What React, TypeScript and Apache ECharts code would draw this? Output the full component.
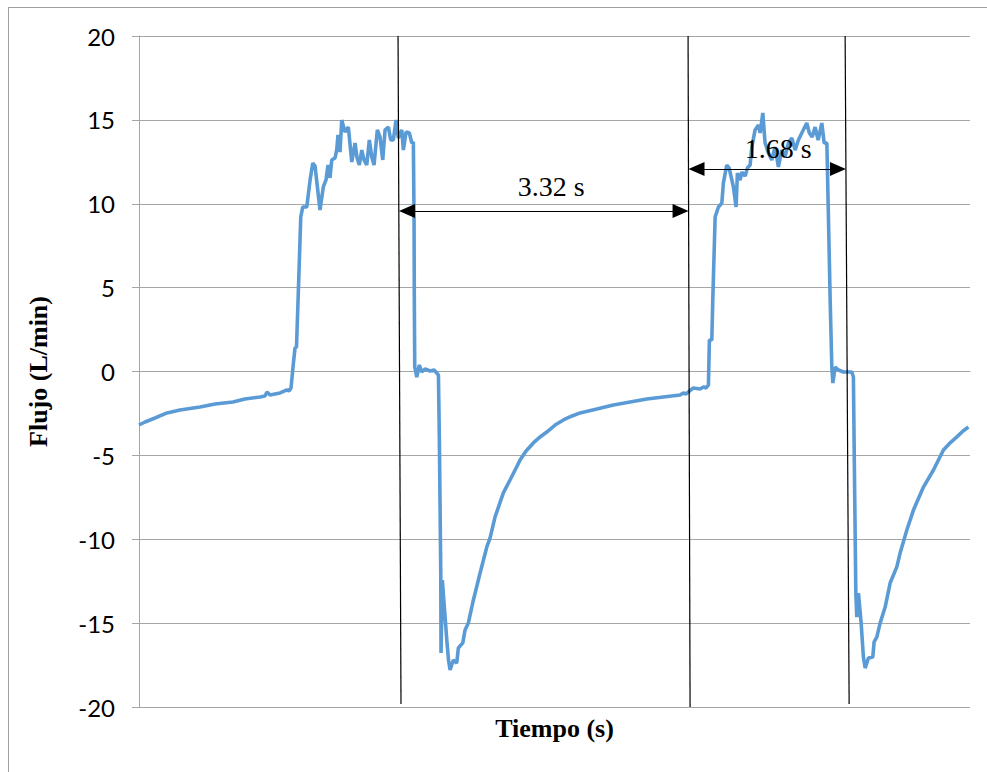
import React, { useEffect, useRef } from "react";
import * as echarts from "echarts";

// Time (s) and flow (L/min)
const timeS = [
  0, 0.069, 0.184, 0.322, 0.471, 0.701, 0.874, 1.08, 1.218, 1.391, 1.448, 1.471, 1.506, 1.621, 1.701, 1.724, 1.747,
  1.77, 1.793, 1.81, 1.828, 1.859, 1.882, 1.928, 1.966, 1.997, 2.023, 2.08, 2.118, 2.149,
  2.172, 2.195, 2.215, 2.253, 2.272, 2.287, 2.31, 2.33, 2.368, 2.406, 2.445, 2.483, 2.506,
  2.532, 2.56, 2.586, 2.617, 2.647, 2.675, 2.701, 2.739, 2.77, 2.801, 2.828, 2.866, 2.893,
  2.923, 2.954, 2.98, 3.02, 3.038, 3.069, 3.107, 3.135, 3.153, 3.161, 3.164, 3.169, 3.192,
  3.222, 3.249, 3.287, 3.345, 3.391, 3.422, 3.441, 3.452, 3.468, 3.471, 3.486, 3.537,
  3.557, 3.575, 3.613, 3.652, 3.67, 3.721, 3.747, 3.785, 3.843, 3.92, 3.997, 4.034, 4.092,
  4.187, 4.264, 4.322, 4.379, 4.448, 4.532, 4.609, 4.686, 4.782, 4.877, 4.977, 5.069, 5.261, 5.452, 5.644, 5.836, 6.026,
  6.218, 6.256, 6.287, 6.371, 6.448, 6.486, 6.517, 6.544, 6.555, 6.583, 6.594, 6.621,
  6.659, 6.698, 6.716, 6.755, 6.782, 6.831, 6.862, 6.877, 6.908, 6.928, 6.966, 6.992,
  7.023, 7.043, 7.08, 7.119, 7.138, 7.169, 7.195, 7.234, 7.272, 7.31, 7.348, 7.387,
  7.425, 7.463, 7.502, 7.54, 7.578, 7.617, 7.674, 7.704, 7.736, 7.77, 7.805, 7.847,
  7.874, 7.905, 7.923, 7.943, 7.962, 7.974, 8.0, 8.038, 8.096, 8.149, 8.192, 8.21,
  8.222, 8.238, 8.249, 8.268, 8.299, 8.325, 8.345, 8.383, 8.433, 8.448, 8.479, 8.517,
  8.575, 8.632, 8.709, 8.747, 8.824, 8.9, 9.015, 9.13, 9.245, 9.322, 9.399, 9.47, 9.532,
];
const flowLmin = [
  -3.19, -3.01, -2.77, -2.47, -2.3, -2.12, -1.94, -1.82, -1.64, -1.52, -1.46, -1.22, -1.4, -1.28, -1.1, -1.16, -0.98,
  0.27, 1.4, 1.46, 4.26, 9.21, 9.81, 9.81, 11.41, 12.43, 12.25, 9.63, 11.0, 11.42,
  12.31, 11.54, 12.61, 12.73, 13.2, 14.1, 13.08, 14.99, 14.27, 14.57, 12.49, 13.62, 12.73,
  12.31, 13.2, 12.61, 12.31, 13.8, 12.79, 12.31, 14.4, 13.98, 12.61, 14.4, 14.57, 13.8,
  13.8, 14.99, 13.92, 14.4, 13.2, 14.28, 14.22, 13.62, 13.68, 9.03, 4.26, 0.27, -0.33,
  0.39, -0.03, 0.15, 0.03, 0.09, -0.09, -0.21, -4.08, -12.01, -16.78, -12.43, -16.0,
  -17.2, -17.79, -17.2, -17.38, -16.48, -16.18, -15.41, -14.99, -13.62, -12.01, -10.46, -9.93, -8.67,
  -7.24, -6.47, -5.87, -5.28, -4.74, -4.26, -3.9, -3.61, -3.19, -2.89, -2.65, -2.47, -2.24, -2.0, -1.82, -1.64, -1.52,
  -1.4, -1.28, -1.34, -0.98, -1.04, -0.92, -0.98, -0.8, 1.88, 1.88, 4.26, 9.21,
  9.81, 10.04, 11.24, 12.31, 12.13, 11.0, 9.81, 11.83, 11.41, 11.89, 11.65, 12.13,
  12.31, 13.38, 14.4, 14.69, 14.22, 15.41, 13.62, 13.02, 12.61, 13.38, 12.19, 13.2,
  12.79, 13.62, 13.92, 13.2, 13.8, 14.22, 14.81, 14.22, 13.98, 14.57, 13.8, 14.81,
  13.62, 13.62, 9.21, 4.26, 0.27, -0.69, 0.27, 0.09, -0.03, -0.03, -0.03, -0.33,
  -6.05, -13.21, -14.64, -13.21, -15.0, -17.02, -17.68, -17.08, -17.02, -16.12, -15.83, -15.0,
  -14.04, -12.61, -11.65, -10.82, -9.45, -8.26, -6.89, -5.87, -4.68, -4.25, -3.9, -3.55, -3.31,
];

// Y axis ticks
const yMin = -20;
const yMax = 20;
const yStep = 5;
const xMax = 9.55;

// Annotation markers: vertical guide lines [tTop, tBottom, vBottom]
const guideLines = [
  [2.977, 3.011, -19.82],
  [6.31, 6.333, -20],
  [8.115, 8.161, -19.82],
];
// Dimension arrows [tStart, tEnd, value]
const arrows = [
  [3.08, 6.224, 9.57],
  [6.407, 8.032, 12.07],
];
const annotLabels = ["3.32 s", "1.68 s"];
const annotPos = [
  [4.736, 11.05],
  [7.345, 13.3],
];

export default function App() {
  const ref = useRef<HTMLDivElement>(null);
  useEffect(() => {
    if (!ref.current) return;
    const chart = echarts.init(ref.current, null, { renderer: "svg" });
    const data = timeS.map((t, i) => [t, flowLmin[i]]);
    const gray = "#a6a6a6";
    const mlData: any[] = [];
    guideLines.forEach((g) => {
      mlData.push([
        { coord: [g[0], yMax], symbol: "none" },
        { coord: [g[1], g[2]], symbol: "none" },
      ]);
    });
    arrows.forEach((a) => {
      mlData.push([
        { coord: [a[0], a[2]], symbol: "triangle", symbolSize: [14, 16] },
        { coord: [a[1], a[2]], symbol: "triangle", symbolSize: [14, 16] },
      ]);
    });
    chart.setOption({
      animation: false,
      backgroundColor: "#ffffff",
      grid: { left: 139, right: 17, top: 36, bottom: 65, containLabel: false },
      xAxis: {
        type: "value",
        min: 0,
        max: xMax,
        axisLabel: { show: false },
        axisTick: { show: false },
        splitLine: { show: false },
        axisLine: { show: true, lineStyle: { color: gray, width: 1 } },
        name: "Tiempo (s)",
        nameLocation: "middle",
        nameGap: 8,
        nameTextStyle: {
          fontFamily: "Liberation Serif",
          fontWeight: "bold",
          fontSize: 26,
          color: "#000",
          verticalAlign: "top",
        },
      },
      yAxis: {
        type: "value",
        min: yMin,
        max: yMax,
        interval: yStep,
        axisLine: { show: true, lineStyle: { color: gray, width: 1 } },
        axisTick: { show: true, length: 7, lineStyle: { color: gray, width: 1 } },
        splitLine: { show: true, lineStyle: { color: gray, width: 1 } },
        axisLabel: {
          fontFamily: "Lato",
          fontSize: 24,
          color: "#000",
          margin: 24,
        },
        name: "Flujo (L/min)",
        nameLocation: "middle",
        nameGap: 88,
        nameRotate: 90,
        nameTextStyle: {
          fontFamily: "Liberation Serif",
          fontWeight: "bold",
          fontSize: 26,
          color: "#000",
        },
      },
      graphic: [
        { type: "line", shape: { x1: 8, y1: 7.5, x2: 987, y2: 7.5 }, style: { stroke: "#a0a0a0", lineWidth: 1 } },
        { type: "line", shape: { x1: 8.5, y1: 7, x2: 8.5, y2: 772 }, style: { stroke: "#a0a0a0", lineWidth: 1 } },
      ],
      series: [
        {
          type: "line",
          data,
          showSymbol: false,
          symbol: "none",
          lineStyle: { color: "#5b9bd5", width: 3.6 },
          z: 2,
          markLine: {
            silent: true,
            animation: false,
            symbol: ["none", "none"],
            label: { show: false },
            lineStyle: { color: "#000", width: 1.2, type: "solid" },
            emphasis: { disabled: true },
            data: mlData,
          },
          markPoint: {
            silent: true,
            animation: false,
            symbol: "circle",
            symbolSize: 1,
            itemStyle: { color: "rgba(0,0,0,0)" },
            label: {
              show: true,
              position: "inside",
              formatter: "{b}",
              fontFamily: "Liberation Serif",
              fontSize: 28,
              color: "#000",
            },
            data: annotLabels.map((s, i) => ({ name: s, coord: annotPos[i] })),
          },
        },
      ],
    });
    return () => chart.dispose();
  }, []);
  return (
    <div
      ref={ref}
      style={{ position: "fixed", left: 0, top: 0, width: 987, height: 772, background: "#fff" }}
    />
  );
}
